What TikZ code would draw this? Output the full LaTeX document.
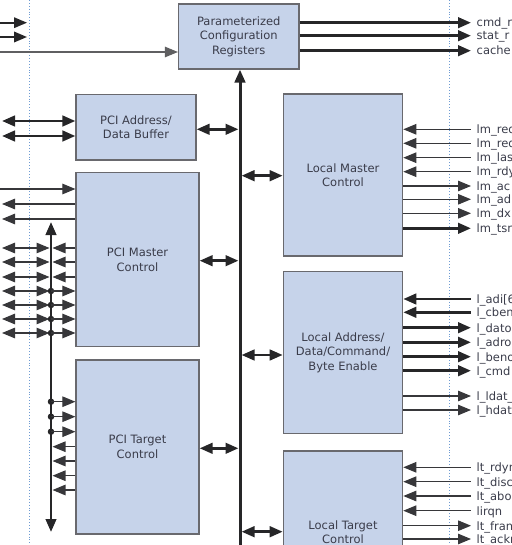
\documentclass[tikz,border=0pt]{standalone}
\usepackage{fontspec}
\setmainfont{DejaVu Sans}
\usetikzlibrary{arrows.meta,calc}
\definecolor{boxfill}{RGB}{198,211,234}
\definecolor{boxline}{RGB}{105,105,110}
\definecolor{ink}{RGB}{38,38,40}
\definecolor{thin}{RGB}{55,55,58}
\definecolor{txt}{RGB}{58,60,74}
\definecolor{guide}{RGB}{110,155,210}
\begin{document}
\begin{tikzpicture}[x=1pt,y=-1pt,
  blk/.style={draw=boxline, line width=1.2pt, fill=boxfill, text=txt, align=center,
    font=\fontsize{11.5}{14.5}\selectfont, inner sep=0pt},
  lab/.style={anchor=base west, inner sep=0pt, text=txt, font=\fontsize{11.5}{13}\selectfont},
  tip/.tip={Triangle[length=13pt,width=10.5pt]},
  sigout/.style={draw=thin, line width=1.1pt, -tip},
  sigin/.style={draw=thin, line width=1.1pt, tip-},
  sigbi/.style={draw=thin, line width=1.2pt, tip-tip},
  thkout/.style={draw=ink, line width=2.8pt, -tip},
  thkin/.style={draw=ink, line width=2.8pt, tip-},
  thkbi/.style={draw=ink, line width=2.8pt, tip-tip},
  busline/.style={draw=ink, line width=3pt},
  guideline/.style={draw=guide, line width=0.9pt, dotted},
  junc/.style={circle, fill=ink, inner sep=0pt, minimum size=6.5pt}
]
\useasboundingbox (0,0) rectangle (511,545);
\clip (0,0) rectangle (511,545);

% guide lines
\coordinate (gLt) at (29,0); \coordinate (gLb) at (29,545);
\coordinate (gRt) at (449.5,0); \coordinate (gRb) at (449.5,545);
\draw[guideline] (gLt) -- (gLb);
\draw[guideline] (gRt) -- (gRb);

% blocks
\node[blk, minimum width=120.5pt, minimum height=65pt] (cfg) at (238.75,36.5) {Parameterized\\Configuration\\Registers};
\node[blk, minimum width=120pt, minimum height=65.3pt] (pab) at (136,127.3) {PCI Address/\\Data Buffer};
\node[blk, minimum width=123pt, minimum height=174pt] (pmc) at (137.5,259.7) {PCI Master\\Control};
\node[blk, minimum width=123pt, minimum height=174pt] (ptc) at (137.5,447) {PCI Target\\Control};
\node[blk, minimum width=119.4pt, minimum height=162pt] (lmc) at (343,175) {Local Master\\Control};
\node[blk, minimum width=119.4pt, minimum height=162pt] (lad) at (343,352.6) {Local Address/\\Data/Command/\\Byte Enable};
\node[blk, minimum width=119.4pt, minimum height=162pt] (ltc) at (343,532) {Local Target\\Control};

% central bus
\coordinate (busB) at (240,560);
\draw[busline, -tip] (busB) -- (busB |- cfg.south);
\draw[thkbi] (pab.east |- 0,129.3) -- (238.5,129.3);
\draw[thkbi] (lmc.west |- 0,175.7) -- (241.5,175.7);
\draw[thkbi] (pmc.east |- 0,260.7) -- (238.5,260.7);
\draw[thkbi] (lad.west |- 0,355) -- (241.5,355);
\draw[thkbi] (ptc.east |- 0,448.3) -- (238.5,448.3);
\draw[thkbi] (ltc.west |- 0,531.7) -- (241.5,531.7);

% left top inputs
\coordinate (a1) at (0,22.7); \coordinate (a1e) at (27,22.7);
\coordinate (a2) at (0,37); \coordinate (a2e) at (27,37);
\coordinate (a3) at (0,52);
\draw[draw=ink, line width=1.8pt, -tip] (a1) -- (a1e);
\draw[draw=ink, line width=1.8pt, -tip] (a2) -- (a2e);
\draw[sigout, draw=thin!80] (a3) -- (cfg.west |- a3);

% PCI address/data buffer
\coordinate (b1) at (2,121); \coordinate (b2) at (2,136);
\draw[thkbi] (b1) -- (pab.west |- b1);
\draw[thkbi] (b2) -- (pab.west |- b2);

% PCI master control left signals
\coordinate (c1) at (0,189); \coordinate (c2) at (2,204); \coordinate (c3) at (2,219);
\draw[sigout] (c1) -- (pmc.west |- c1);
\draw[sigin] (c2) -- (pmc.west |- c2);
\draw[sigin] (c3) -- (pmc.west |- c3);

% left vertical bus
\coordinate (lbT) at (51,222); \coordinate (lbB) at (51,532);
\draw[draw=ink, line width=2.6pt, tip-tip] (lbT) -- (lbB);

\foreach \y [count=\i] in {248,262,277}{
  \coordinate (m\i) at (2,\y);
  \coordinate (mb\i) at (49.5,\y);
  \draw[sigbi] (m\i) -- (mb\i);
  \draw[sigout] (pmc.west |- m\i) -- (52.5,\y);
}
\foreach \y [count=\i] in {291,305,319,333}{
  \coordinate (n\i) at (2,\y);
  \coordinate (nb\i) at (49.5,\y);
  \draw[sigbi] (n\i) -- (nb\i);
  \node[junc] (nd\i) at (51,\y) {};
  \draw[sigout] (nd\i.center) -- (pmc.west |- nd\i);
}
% PCI target control
\foreach \y [count=\i] in {401.7,416.7,431.7}{
  \node[junc] (td\i) at (51,\y) {};
  \draw[sigout] (td\i.center) -- (ptc.west |- td\i);
}
\foreach \y [count=\i] in {446.7,461,475.7,490}{
  \coordinate (tb\i) at (52.5,\y);
  \draw[sigout] (ptc.west |- tb\i) -- (tb\i);
}

% config register outputs
\foreach \y/\t [count=\i] in {22.7/cmd\_r, 35.7/stat\_r, 50.7/cache}{
  \coordinate (q\i) at (471,\y);
  \node[lab] (ql\i) at ($(q\i)+(5.5,4.3)$) {\t};
  \draw[thkout] (cfg.east |- q\i) -- (q\i);
}

% local master signals
\foreach \y/\t/\s [count=\i] in {129.3/lm\_req/sigin, 143.3/lm\_req/sigin, 157.7/lm\_las/sigin,
  171.7/lm\_rdy/sigin, 186/lm\_ac/sigout, 199.3/lm\_ad/sigout, 213.3/lm\_dx/sigout, 228.3/lm\_tsr/thkout}{
  \coordinate (r\i) at (471,\y);
  \node[lab] (rl\i) at ($(r\i)+(5.5,4.3)$) {\t};
  \draw[\s] (lmc.east |- r\i) -- (r\i);
}

% local address/data signals
\foreach \y/\t/\s [count=\i] in {299/l\_adi[6/thkin, 312.3/l\_cben/thkin, 327.7/l\_dato/thkout,
  342.3/l\_adro/thkout, 356.7/l\_beno/thkout, 370.7/l\_cmd/thkout, 396/l\_ldat\_/sigout, 410/l\_hdat/sigout}{
  \coordinate (s\i) at (471,\y);
  \node[lab] (sl\i) at ($(s\i)+(5.5,4.3)$) {\t};
  \draw[\s] (lad.east |- s\i) -- (s\i);
}

% local target signals
\foreach \y/\t/\s [count=\i] in {467.3/lt\_rdyn/sigin, 481.7/lt\_disc/sigin, 496/lt\_abo/sigin,
  510.7/lirqn/sigin, 525.7/lt\_fran/sigout, 539/lt\_ackn/sigout}{
  \coordinate (u\i) at (471,\y);
  \node[lab] (ul\i) at ($(u\i)+(5.5,4.3)$) {\t};
  \draw[\s] (ltc.east |- u\i) -- (u\i);
}
\end{tikzpicture}
\end{document}
